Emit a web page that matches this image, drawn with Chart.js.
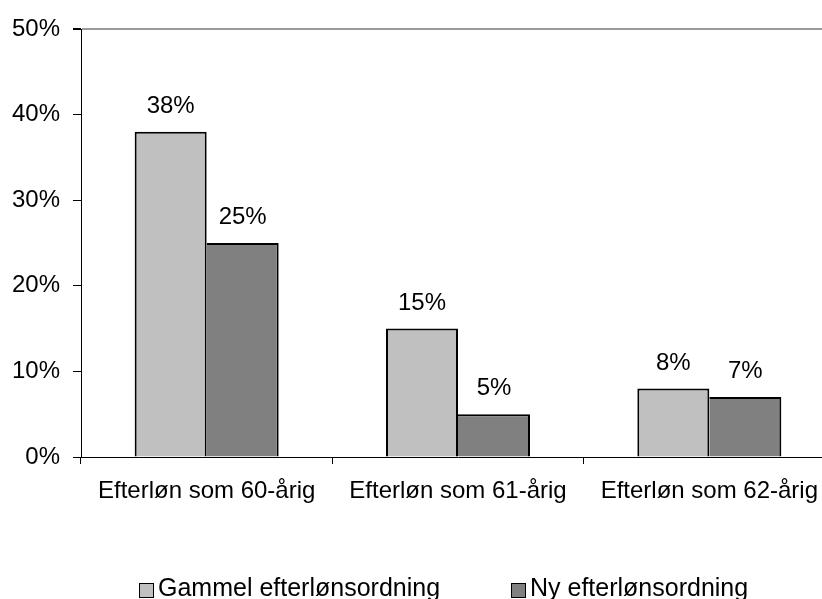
<!DOCTYPE html>
<html>
<head>
<meta charset="utf-8">
<script src="https://cdn.jsdelivr.net/npm/chart.js@4/dist/chart.umd.min.js"></script>
<style>
  html, body { margin: 0; padding: 0; background: #fff; overflow: hidden; width: 822px; height: 599px; }
  canvas { display: block; }
</style>
</head>
<body>
<canvas id="chart" width="840" height="599"></canvas>
<script>
// Andel der går på efterløn, gammel vs. ny ordning
const categories = ['Efterløn som 60-årig', 'Efterløn som 61-årig', 'Efterløn som 62-årig'];
const seriesNames = ['Gammel efterlønsordning', 'Ny efterlønsordning'];
const gammelValues = [38, 15, 8];
const nyValues = [25, 5, 7];
const yTickValues = [0, 10, 20, 30, 40, 50];

const FONT = "'Liberation Sans', Arial, sans-serif";
const LIGHT = '#c0c0c0';
const DARK = '#808080';

// Percentage labels above every bar
const valueLabels = {
  id: 'valueLabels',
  afterDatasetsDraw(chart) {
    const ctx = chart.ctx;
    ctx.save();
    ctx.font = '24px ' + FONT;
    ctx.fillStyle = '#000';
    ctx.textAlign = 'center';
    ctx.textBaseline = 'alphabetic';
    chart.data.datasets.forEach((ds, i) => {
      chart.getDatasetMeta(i).data.forEach((bar, j) => {
        ctx.fillText(Math.round(ds.data[j]) + '%', bar.x, bar.y - 19);
      });
    });
    ctx.restore();
  }
};

// Legend row along the bottom edge
const bottomLegend = {
  id: 'bottomLegend',
  afterDraw(chart, args, opts) {
    const ctx = chart.ctx;
    ctx.save();
    ctx.font = opts.fontSize + 'px ' + FONT;
    ctx.textBaseline = 'alphabetic';
    ctx.textAlign = 'left';
    chart.data.datasets.forEach((ds, i) => {
      const x = opts.itemX[i];
      ctx.fillStyle = ds.backgroundColor;
      ctx.fillRect(x, opts.boxTop, opts.boxSize, opts.boxSize);
      ctx.strokeStyle = '#000';
      ctx.lineWidth = 1;
      ctx.strokeRect(x + 0.5, opts.boxTop + 0.5, opts.boxSize - 1, opts.boxSize - 1);
      ctx.fillStyle = '#000';
      ctx.fillText(ds.label, x + opts.boxSize + 4, opts.baseline);
    });
    ctx.restore();
  }
};

new Chart(document.getElementById('chart'), {
  type: 'bar',
  data: {
    labels: categories,
    datasets: [
      {
        label: seriesNames[0],
        data: gammelValues,
        backgroundColor: LIGHT,
        borderColor: '#000',
        borderWidth: 2
      },
      {
        label: seriesNames[1],
        data: nyValues,
        backgroundColor: DARK,
        borderColor: '#000',
        borderWidth: { top: 2, right: 2, bottom: 0, left: 0 }
      }
    ]
  },
  options: {
    responsive: false,
    devicePixelRatio: 1,
    animation: false,
    layout: { padding: { top: 29, right: 5, bottom: 82, left: 0 } },
    datasets: {
      bar: { categoryPercentage: 0.573, barPercentage: 1.0 }
    },
    scales: {
      x: {
        grid: {
          display: true,
          drawOnChartArea: false,
          offset: true,
          tickLength: 7,
          tickColor: '#000',
          color: '#000'
        },
        border: { display: true, color: '#000', width: 1 },
        ticks: {
          color: '#000',
          font: { family: FONT, size: 24 },
          padding: 13,
          maxRotation: 0,
          autoSkip: false
        },
        afterFit(scale) { scale.height = 60; }
      },
      y: {
        min: 0,
        max: 50,
        afterBuildTicks(scale) { scale.ticks = yTickValues.map(v => ({ value: v })); },
        grid: {
          drawOnChartArea: true,
          color: ctx => (ctx.tick && ctx.tick.value === 50 ? '#9a9a9a' : 'rgba(0,0,0,0)'),
          lineWidth: ctx => (ctx.tick && ctx.tick.value === 50 ? 2 : 1),
          tickColor: '#000',
          tickLength: 8
        },
        border: { display: true, color: '#000', width: 1 },
        ticks: {
          color: '#000',
          font: { family: FONT, size: 24 },
          padding: 13,
          callback: v => v + '%'
        },
        afterFit(scale) { scale.width = 81; }
      }
    },
    plugins: {
      legend: { display: false },
      tooltip: { enabled: false },
      bottomLegend: {
        itemX: [139, 511],
        boxTop: 583,
        boxSize: 15,
        baseline: 596,
        fontSize: 25
      }
    }
  },
  plugins: [valueLabels, bottomLegend]
});
</script>
</body>
</html>
